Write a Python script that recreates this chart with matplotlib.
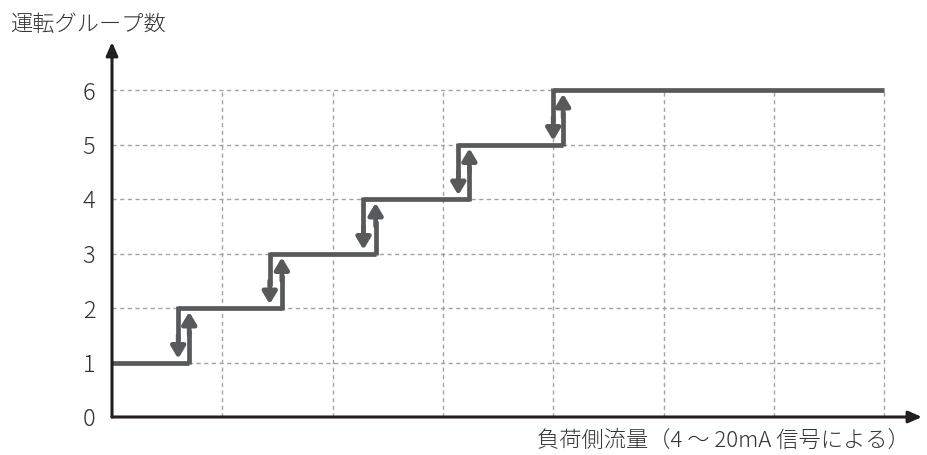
import matplotlib.pyplot as plt

plt.rcParams['font.family'] = ['Noto Sans CJK JP', 'DejaVu Sans']

# 運転グループ数 levels and switching points (grid units along flow axis)
levels = [1, 2, 3, 4, 5, 6]
up_points = [0.70, 1.54, 2.39, 3.24, 4.09]     # switch up (increasing flow)
down_points = [0.60, 1.43, 2.28, 3.14, 4.00]   # switch down (decreasing flow)
x_end = 7
y_ticks = [0, 1, 2, 3, 4, 5, 6]
grid_x = [1, 2, 3, 4, 5, 6, 7]
grid_y = [1, 2, 3, 4, 5, 6]

line_color = '#58595b'
axis_color = '#231f20'
grid_color = '#a3a3a3'

fig = plt.figure(figsize=(9.27, 4.55), dpi=100)
# axes from origin (112, 417) to arrow tips (922, 42) in pixels
ax = fig.add_axes([112 / 927, (455 - 417) / 455, (922 - 112) / 927, (417 - 42) / 455])
ax.set_xlim(0, (922 - 112) / 110.3)
ax.set_ylim(0, (417 - 42) / 54.5)

# grid
ax.vlines(grid_x, 0, 6, colors=grid_color, linestyles=(0, (3, 2.5)), linewidth=1, zorder=1)
ax.hlines(grid_y, 0, x_end, colors=grid_color, linestyles=(0, (3, 2.5)), linewidth=1, zorder=1)

# horizontal steps
starts = [0] + down_points
ends = up_points + [x_end]
for lv, x0, x1 in zip(levels, starts, ends):
    ax.plot([x0, x1], [lv, lv], color=line_color, lw=3.4, solid_capstyle='butt', zorder=3)

# vertical transitions with arrows
head = '-|>,head_length=0.7,head_width=0.42'
for i, (xu, xd) in enumerate(zip(up_points, down_points)):
    lv = levels[i]
    ax.plot([xu, xu], [lv - 0.03, lv + 0.6], color=line_color, lw=3.4, solid_capstyle='butt', zorder=3)
    ax.annotate('', xy=(xu, lv + 0.93), xytext=(xu, lv + 0.5),
                arrowprops=dict(arrowstyle=head, lw=3.4,
                                color=line_color, shrinkA=0, shrinkB=0), zorder=4)
    ax.plot([xd, xd], [lv + 1.03, lv + 0.4], color=line_color, lw=3.4, solid_capstyle='butt', zorder=3)
    ax.annotate('', xy=(xd, lv + 0.07), xytext=(xd, lv + 0.5),
                arrowprops=dict(arrowstyle=head, lw=3.4,
                                color=line_color, shrinkA=0, shrinkB=0), zorder=4)

# axes with arrows
for s in ax.spines.values():
    s.set_visible(False)
ax.annotate('', xy=(1, 0), xytext=(0, 0), xycoords='axes fraction',
            arrowprops=dict(arrowstyle='-|>,head_length=0.8,head_width=0.35', lw=2.2,
                            color=axis_color, shrinkA=0, shrinkB=0), zorder=5)
ax.annotate('', xy=(0, 1), xytext=(0, 0), xycoords='axes fraction',
            arrowprops=dict(arrowstyle='-|>,head_length=0.8,head_width=0.35', lw=2.2,
                            color=axis_color, shrinkA=0, shrinkB=0), zorder=5)

ax.set_xticks([])
ax.set_yticks(y_ticks)
ax.set_yticklabels([str(v) for v in y_ticks], fontsize=17, color='#333333', fontweight='light')
ax.tick_params(axis='y', length=0, pad=12)

fig.text(10 / 927, 1 - 25 / 455, '運転グループ数', fontsize=16, color='#333333',
         ha='left', va='center', fontweight='light')
fig.text(910 / 927, 1 - 441 / 455, '負荷側流量（4 ～ 20mA 信号による）', fontsize=16, color='#333333',
         ha='right', va='center', fontweight='light')

fig.savefig('out.png', dpi=100)
